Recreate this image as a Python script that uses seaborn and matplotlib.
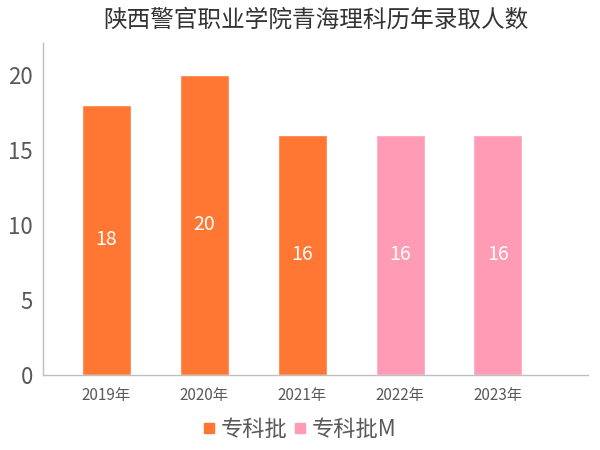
import pandas as pd
import matplotlib
matplotlib.use('Agg')
import matplotlib.pyplot as plt
import seaborn as sns
from matplotlib.lines import Line2D

# Data
years = ['2019年', '2020年', '2021年', '2022年', '2023年']
counts = [18, 20, 16, 16, 16]
batches = ['专科批', '专科批', '专科批', '专科批M', '专科批M']
batch_order = ['专科批', '专科批M']
colors = {'专科批': '#FF7733', '专科批M': '#FF9BB5'}

df = pd.DataFrame({'year': years, 'count': counts, 'batch': batches})

sns.set_style('white')
plt.rcParams['font.family'] = ['Noto Sans CJK SC', 'DejaVu Sans']

fig = plt.figure(figsize=(6, 4.5), dpi=100)
ax = fig.add_axes([0.072, 0.167, 0.908, 0.737])

sns.barplot(data=df, x='year', y='count', hue='batch', hue_order=batch_order,
            palette=colors, dodge=False, width=0.5, ax=ax, legend=False,
            saturation=1)

# value labels in the middle of each bar
for i, v in enumerate(counts):
    ax.text(i, v / 2, str(v), ha='center', va='center', color='white', fontsize=14)

ax.set_ylim(0, 22.1)
ax.set_xlim(-0.646, 4.92)
ax.set_yticks([0, 5, 10, 15, 20])
ax.set_xlabel('')
ax.set_ylabel('')

gray = '#595959'
ax.tick_params(axis='y', labelsize=16, colors=gray, length=4, color='#BFBFBF')
ax.tick_params(axis='x', labelsize=11, colors=gray, length=4, color='#BFBFBF', pad=5)

for side in ['top', 'right']:
    ax.spines[side].set_visible(False)
for side in ['left', 'bottom']:
    ax.spines[side].set_color('#BFBFBF')
    ax.spines[side].set_linewidth(1)

ax.set_title('陕西警官职业学院青海理科历年录取人数', fontsize=17, color='#333333', pad=12)

handles = [Line2D([0], [0], marker='s', linestyle='', markersize=7,
                  markerfacecolor=colors[b], markeredgecolor=colors[b], label=b)
           for b in batch_order]
fig.legend(handles=handles, loc='lower center', bbox_to_anchor=(0.5, -0.025), ncol=2,
           frameon=False, fontsize=16, handlelength=0.5, handletextpad=0.3,
           columnspacing=0.3, labelcolor=gray)

fig.savefig('out.png', dpi=100)
